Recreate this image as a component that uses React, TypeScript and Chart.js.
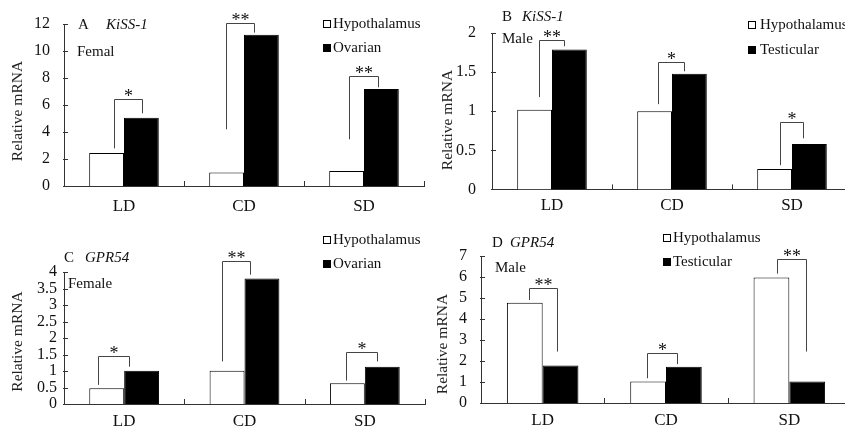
import React, { useEffect, useRef } from 'react';
import { Chart, registerables } from 'chart.js';

Chart.register(...registerables);

// ---------- data ----------
const categories = ['LD', 'CD', 'SD'];
const hypName = 'Hypothalamus';
const ovaName = 'Ovarian';
const tesName = 'Testicular';

// A: KiSS-1 female
const kissFemaleHyp = [2.45, 1.0, 1.12];
const kissFemaleOva = [5.05, 11.2, 7.18];
const kissFemaleSig = ['*', '**', '**'];
const kissFemaleBrLeft = [2.79, 4.2, 3.46];
const kissFemaleBrTop = [6.44, 12.1, 8.15];
const kissFemaleBrRight = [5.39, 11.36, 7.31];

// B: KiSS-1 male
const kissMaleHyp = [1.02, 1.0, 0.26];
const kissMaleTes = [1.79, 1.48, 0.58];
const kissMaleSig = ['**', '*', '*'];
const kissMaleBrLeft = [1.18, 1.09, 0.31];
const kissMaleBrTop = [1.915, 1.63, 0.857];
const kissMaleBrRight = [1.83, 1.51, 0.653];

// C: GPR54 female
const gprFemaleHyp = [0.48, 1.01, 0.63];
const gprFemaleOva = [1.01, 3.8, 1.13];
const gprFemaleSig = ['*', '**', '*'];
const gprFemaleBrLeft = [0.58, 1.29, 0.71];
const gprFemaleBrTop = [1.44, 4.33, 1.59];
const gprFemaleBrRight = [1.13, 3.92, 1.29];

// D: GPR54 male
const gprMaleHyp = [4.77, 1.02, 5.98];
const gprMaleTes = [1.78, 1.73, 1.02];
const gprMaleSig = ['**', '*', '**'];
const gprMaleBrLeft = [4.9, 1.18, 6.16];
const gprMaleBrTop = [5.5, 2.37, 6.87];
const gprMaleBrRight = [2.45, 1.85, 2.45];

// ---------- styling / layout ----------
const SERIF = "'Liberation Serif', 'Times New Roman', serif";
const AXIS = '#333';
const TEXT = '#111';

type Panel = {
  key: string;
  left: number; top: number; width: number; height: number;
  area: { left: number; top: number; right: number; bottom: number };
  yMax: number; yStep: number; yTickFont: number; yTickPad: number; xTickPad: number;
  hyp: number[]; other: number[]; otherName: string;
  sig: string[]; brL: number[]; brT: number[]; brR: number[];
  legOff: [number, number][];
  letter: string; letterPos: [number, number];
  gene: string; genePos: [number, number];
  sex: string; sexPos: [number, number];
  legendX: number; legendY: [number, number]; legendTextX: number;
  yTitle: [number, number];
};

const panels: Panel[] = [
  {
    key: 'A', left: 0, top: 0, width: 430, height: 215,
    area: { left: 64, top: 24, right: 424, bottom: 186 },
    yMax: 12, yStep: 2, yTickFont: 16, yTickPad: 14, xTickPad: 10,
    hyp: kissFemaleHyp, other: kissFemaleOva, otherName: ovaName,
    sig: kissFemaleSig, brL: kissFemaleBrLeft, brT: kissFemaleBrTop, brR: kissFemaleBrRight,
    legOff: [[7, 1], [-1, -7], [2.6, -3.7]],
    letter: 'A', letterPos: [78, 25], gene: 'KiSS-1', genePos: [106, 25],
    sex: 'Femal', sexPos: [77, 52],
    legendX: 323, legendY: [24, 48], legendTextX: 333,
    yTitle: [18, 111],
  },
  {
    key: 'B', left: 420, top: 0, width: 440, height: 215,
    area: { left: 72, top: 33, right: 432, bottom: 191 },
    yMax: 2, yStep: 0.5, yTickFont: 16, yTickPad: 16, xTickPad: 6,
    hyp: kissMaleHyp, other: kissMaleTes, otherName: tesName,
    sig: kissMaleSig, brL: kissMaleBrLeft, brT: kissMaleBrTop, brR: kissMaleBrRight,
    legOff: [[4, -5.5], [3.5, -5.5], [5, -6.6]],
    letter: 'B', letterPos: [82, 17], gene: 'KiSS-1', genePos: [102, 17],
    sex: 'Male', sexPos: [82, 39],
    legendX: 328, legendY: [25, 50], legendTextX: 340,
    yTitle: [27.5, 120],
  },
  {
    key: 'C', left: 0, top: 215, width: 430, height: 216,
    area: { left: 64, top: 57, right: 425, bottom: 189 },
    yMax: 4, yStep: 0.5, yTickFont: 16, yTickPad: 7, xTickPad: 7,
    hyp: gprFemaleHyp, other: gprFemaleOva, otherName: ovaName,
    sig: gprFemaleSig, brL: gprFemaleBrLeft, brT: gprFemaleBrTop, brR: gprFemaleBrRight,
    legOff: [[-8.8, -12.8], [-4.8, -12.4], [-1.1, -4.9]],
    letter: 'C', letterPos: [64, 43], gene: 'GPR54', genePos: [85, 43],
    sex: 'Female', sexPos: [68, 69],
    legendX: 323, legendY: [25, 49], legendTextX: 333,
    yTitle: [18, 126.5],
  },
  {
    key: 'D', left: 420, top: 215, width: 440, height: 216,
    area: { left: 61, top: 41, right: 431, bottom: 188 },
    yMax: 7, yStep: 1, yTickFont: 16, yTickPad: 14, xTickPad: 7,
    hyp: gprMaleHyp, other: gprMaleTes, otherName: tesName,
    sig: gprMaleSig, brL: gprMaleBrLeft, brT: gprMaleBrTop, brR: gprMaleBrRight,
    legOff: [[4.7, -3.1], [-1.5, -7], [5.4, -1.5]],
    letter: 'D', letterPos: [72, 28], gene: 'GPR54', genePos: [90, 28],
    sex: 'Male', sexPos: [75, 53],
    legendX: 243, legendY: [23, 47], legendTextX: 253,
    yTitle: [22.5, 129],
  },
];

function makeDecoPlugin(p: Panel) {
  return {
    id: 'deco' + p.key,
    afterDraw(chart: any) {
      const ctx: CanvasRenderingContext2D = chart.ctx;
      const xs = chart.scales.x;
      const ys = chart.scales.y;
      const a = chart.chartArea;
      ctx.save();
      // axis tick marks
      ctx.strokeStyle = AXIS;
      ctx.lineWidth = 1;
      ctx.beginPath();
      for (const t of ys.ticks) {
        const y = Math.round(ys.getPixelForValue(t.value)) + 0.5;
        ctx.moveTo(a.left - 1, y);
        ctx.lineTo(a.left + 4, y);
      }
      for (let i = 0; i <= categories.length; i++) {
        const x = Math.round(xs.getPixelForValue(i - 0.5)) + 0.5;
        ctx.moveTo(x, a.bottom);
        ctx.lineTo(x, a.bottom - 5);
      }
      ctx.stroke();

      // significance brackets
      const m0 = chart.getDatasetMeta(0);
      const m1 = chart.getDatasetMeta(1);
      ctx.strokeStyle = '#444';
      for (let i = 0; i < categories.length; i++) {
        const lx = Math.round(m0.data[i].x + p.legOff[i][0]) + 0.5;
        const rx = Math.round(m1.data[i].x + p.legOff[i][1]) + 0.5;
        const yl = ys.getPixelForValue(p.brL[i]);
        const yt = Math.round(ys.getPixelForValue(p.brT[i])) + 0.5;
        const yr = ys.getPixelForValue(p.brR[i]);
        ctx.beginPath();
        ctx.moveTo(lx, yl);
        ctx.lineTo(lx, yt);
        ctx.lineTo(rx, yt);
        ctx.lineTo(rx, yr);
        ctx.stroke();
        ctx.fillStyle = TEXT;
        ctx.font = `18px ${SERIF}`;
        ctx.textAlign = 'center';
        ctx.textBaseline = 'alphabetic';
        ctx.fillText(p.sig[i], (lx + rx) / 2, yt + 2);
      }

      // panel labels
      ctx.fillStyle = TEXT;
      ctx.textAlign = 'left';
      ctx.textBaseline = 'middle';
      ctx.font = `15px ${SERIF}`;
      ctx.fillText(p.letter, p.letterPos[0], p.letterPos[1]);
      ctx.fillText(p.sex, p.sexPos[0], p.sexPos[1]);
      ctx.font = `italic 15px ${SERIF}`;
      ctx.fillText(p.gene, p.genePos[0], p.genePos[1]);

      // legend
      ctx.font = `15px ${SERIF}`;
      const names = [hypName, p.otherName];
      const fills = ['#fff', '#000'];
      for (let k = 0; k < 2; k++) {
        const y = p.legendY[k];
        ctx.fillStyle = fills[k];
        ctx.fillRect(p.legendX + 0.5, Math.round(y - 4) + 0.5, 7, 7);
        ctx.strokeStyle = '#000';
        ctx.strokeRect(p.legendX + 0.5, Math.round(y - 4) + 0.5, 7, 7);
        ctx.fillStyle = TEXT;
        ctx.fillText(names[k], p.legendTextX, y);
      }

      // y axis title
      ctx.save();
      ctx.translate(p.yTitle[0], p.yTitle[1]);
      ctx.rotate(-Math.PI / 2);
      ctx.textAlign = 'center';
      ctx.textBaseline = 'middle';
      ctx.font = `15.5px ${SERIF}`;
      ctx.fillStyle = '#222';
      ctx.fillText('Relative mRNA', 0, 0);
      ctx.restore();

      ctx.restore();
    },
  };
}

function PanelChart({ p }: { p: Panel }) {
  const ref = useRef<HTMLCanvasElement | null>(null);
  useEffect(() => {
    const canvas = ref.current;
    if (!canvas) return;
    const chart = new Chart(canvas, {
      type: 'bar',
      data: {
        labels: categories,
        datasets: [
          {
            label: hypName,
            data: p.hyp,
            backgroundColor: '#ffffff',
            borderColor: '#000000',
            borderWidth: 1,
            categoryPercentage: 0.58,
            barPercentage: 1.0,
          },
          {
            label: p.otherName,
            data: p.other,
            backgroundColor: '#000000',
            borderColor: '#000000',
            borderWidth: 1,
            categoryPercentage: 0.58,
            barPercentage: 1.0,
          },
        ],
      },
      options: {
        responsive: false,
        animation: false,
        devicePixelRatio: 1,
        layout: {
          padding: {
            left: 0,
            top: p.area.top,
            right: p.width - p.area.right,
            bottom: 0,
          },
        },
        plugins: {
          legend: { display: false },
          title: { display: false },
          tooltip: { enabled: false },
        },
        scales: {
          x: {
            type: 'category',
            offset: true,
            grid: { display: false, drawTicks: false },
            border: { display: true, color: AXIS, width: 1 },
            ticks: {
              font: { family: SERIF, size: 17 },
              color: TEXT,
              padding: p.xTickPad,
              maxRotation: 0,
            },
            afterFit: (s: any) => {
              s.height = p.height - p.area.bottom;
            },
          },
          y: {
            type: 'linear',
            min: 0,
            max: p.yMax,
            grid: { display: false, drawTicks: false },
            border: { display: true, color: AXIS, width: 1 },
            ticks: {
              stepSize: p.yStep,
              autoSkip: false,
              font: { family: SERIF, size: p.yTickFont },
              color: TEXT,
              padding: p.yTickPad,
              callback: (v: any) => String(Math.round(Number(v) * 100) / 100),
            },
            afterFit: (s: any) => {
              s.width = p.area.left;
            },
          },
        },
      } as any,
      plugins: [makeDecoPlugin(p)],
    });
    return () => chart.destroy();
  }, [p]);
  return (
    <canvas
      ref={ref}
      width={p.width}
      height={p.height}
      style={{
        position: 'absolute',
        left: p.left,
        top: p.top,
        width: p.width,
        height: p.height,
      }}
    />
  );
}

export default function App() {
  return (
    <div
      style={{
        position: 'fixed',
        left: 0,
        top: 0,
        width: 845,
        height: 431,
        overflow: 'hidden',
        background: '#fff',
      }}
    >
      {panels.map((p) => (
        <PanelChart key={p.key} p={p} />
      ))}
    </div>
  );
}
